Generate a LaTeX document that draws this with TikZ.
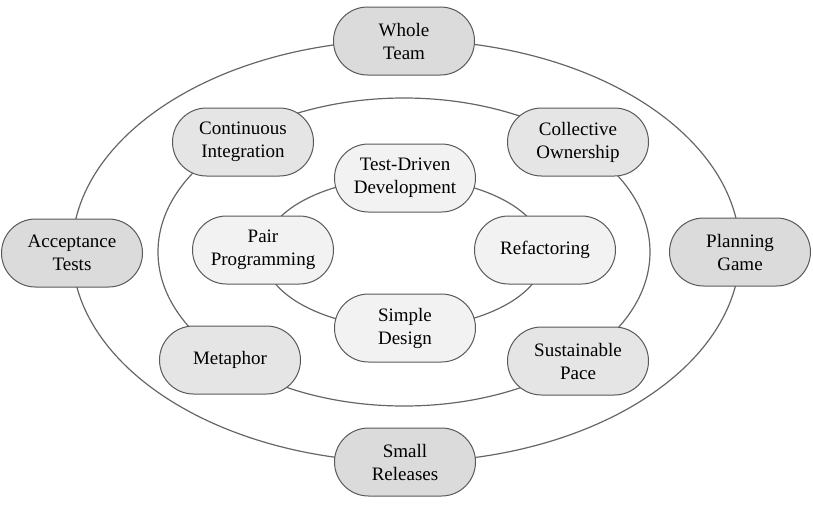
\documentclass[tikz,border=0pt]{standalone}
\usepackage{fontspec}
\setmainfont{Liberation Serif}
\usetikzlibrary{
	shapes.misc
}
\definecolor{outerfill}{gray}{0.86}
\definecolor{middlefill}{gray}{0.90}
\definecolor{innerfill}{gray}{0.95}

\begin{document}
\begin{tikzpicture}[
		x = 1pt,
		y = -1pt,
		practice/.style={
			draw = black!65,
			line width = 1pt,
			rounded rectangle,
			minimum width = 145pt,
			minimum height = 68pt,
			inner sep = 2pt,
			align=center,
			font = \fontsize{19}{23}\selectfont
		},
		outerpractice/.style={practice, fill=outerfill},
		middlepractice/.style={practice, fill=middlefill},
		innerpractice/.style={practice, fill=innerfill},
		ring/.style={
			draw = black!60,
			line width = 1.2pt}
		]
		\useasboundingbox (0,0) rectangle (813,504);
		
		% the three rings
		\draw[ring] (406,251) ellipse [x radius=334, y radius=211];
		\draw[ring] (404,252) ellipse [x radius=246, y radius=154];
		\draw[ring] (404,253) ellipse [x radius=141, y radius=75];
		
		% outer ring
		\node[outerpractice] (team) at (404,41) {Whole\\Team};
		\node[outerpractice] (accept) at (72,253) {Acceptance\\Tests};
		\node[outerpractice] (planning) at (740,252) {Planning\\Game};
		\node[outerpractice] (releases) at (405,462) {Small\\Releases};
		
		% middle ring
		\node[middlepractice] (integration) at (243,142) {Continuous\\Integration};
		\node[middlepractice] (ownership) at (578,142) {Collective\\Ownership};
		\node[middlepractice] (metaphor) at (230,360) {Metaphor};
		\node[middlepractice] (pace) at (578,361) {Sustainable\\Pace};
		
		% inner ring
		\node[innerpractice] (tdd) at (405,178) {Test-Driven\\Development};
		\node[innerpractice] (pair) at (263,250) {Pair\\Programming};
		\node[innerpractice] (refactor) at (545,250) {Refactoring};
		\node[innerpractice] (design) at (405,328) {Simple\\Design};
	\end{tikzpicture}
\end{document}
